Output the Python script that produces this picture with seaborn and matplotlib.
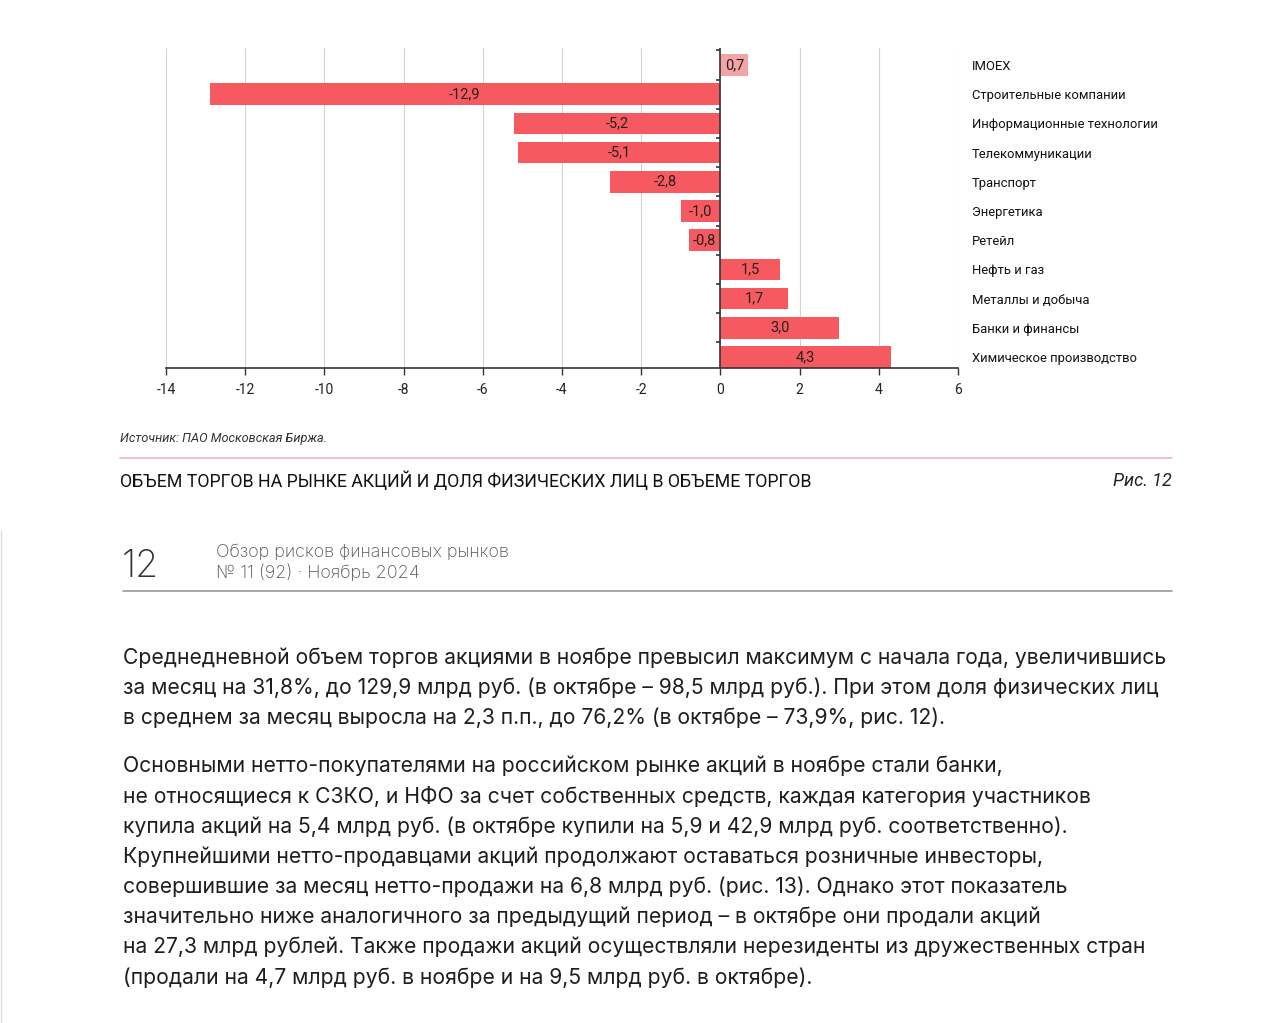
import matplotlib
matplotlib.use("Agg")
import matplotlib.pyplot as plt
import seaborn as sns
import pandas as pd
from matplotlib.lines import Line2D

# ---- data ----
categories = ["IMOEX", "Строительные компании", "Информационные технологии",
              "Телекоммуникации", "Транспорт", "Энергетика", "Ретейл",
              "Нефть и газ", "Металлы и добыча", "Банки и финансы",
              "Химическое производство"]
values = [0.7, -12.9, -5.2, -5.1, -2.8, -1.0, -0.8, 1.5, 1.7, 3.0, 4.3]
x_ticks = [-14, -12, -10, -8, -6, -4, -2, 0, 2, 4, 6]

source_text = "Источник: ПАО Московская Биржа."
next_title = "ОБЪЕМ ТОРГОВ НА РЫНКЕ АКЦИЙ И ДОЛЯ ФИЗИЧЕСКИХ ЛИЦ В ОБЪЕМЕ ТОРГОВ"
fig_label = "Рис. 12"
page_num = "12"
header_lines = ["Обзор рисков финансовых рынков", "№ 11 (92) · Ноябрь 2024"]
para1 = [
    "Среднедневной объем торгов акциями в ноябре превысил максимум с начала года, увеличившись",
    "за месяц на 31,8%, до 129,9 млрд руб. (в октябре – 98,5 млрд руб.). При этом доля физических лиц",
    "в среднем за месяц выросла на 2,3 п.п., до 76,2% (в октябре – 73,9%, рис. 12).",
]
para2 = [
    "Основными нетто-покупателями на российском рынке акций в ноябре стали банки,",
    "не относящиеся к СЗКО, и НФО за счет собственных средств, каждая категория участников",
    "купила акций на 5,4 млрд руб. (в октябре купили на 5,9 и 42,9 млрд руб. соответственно).",
    "Крупнейшими нетто-продавцами акций продолжают оставаться розничные инвесторы,",
    "совершившие за месяц нетто-продажи на 6,8 млрд руб. (рис. 13). Однако этот показатель",
    "значительно ниже аналогичного за предыдущий период – в октябре они продали акций",
    "на 27,3 млрд рублей. Также продажи акций осуществляли нерезиденты из дружественных стран",
    "(продали на 4,7 млрд руб. в ноябре и на 9,5 млрд руб. в октябре).",
]

W, H = 1280, 1023
sns.set_theme(style="white")
narrow = ["Roboto", "DejaVu Sans"]
body = ["Inter", "DejaVu Sans"]
plt.rcParams["font.family"] = body

fig = plt.figure(figsize=(W / 100, H / 100), dpi=100)
fig.patch.set_facecolor("white")

def fx(px):
    return px / W

def fy(py):
    return 1 - py / H

ax = fig.add_axes([fx(166), fy(368), fx(958) - fx(166), fy(48) - fy(368)])

df = pd.DataFrame({"cat": categories, "val": values})
pal = {c: ("#f4a3a6" if c == "IMOEX" else "#f65a60") for c in categories}
sns.barplot(data=df, x="val", y="cat", hue="cat", palette=pal, legend=False,
            orient="h", width=0.74, ax=ax, linewidth=0, saturation=1)

for c in ax.containers:
    ax.bar_label(c, labels=[f"{b.get_width():.1f}".replace(".", ",") for b in c],
                 label_type="center", fontsize=10.5, color="#222222", family=narrow)

ax.set_xlim(-14, 6)
ax.set_ylim(len(categories) - 1 + 0.38, -0.58)
ax.set_xticks(x_ticks)
ax.set_xticklabels([str(t) for t in x_ticks], family=narrow,
                   fontsize=10, color="#222222")
ax.grid(axis="x", color="#d2d2d2", linewidth=0.8)
ax.set_axisbelow(True)
ax.axvline(0, color="#333333", linewidth=1.2, zorder=3)
for k in range(len(categories)):
    ax.hlines(k - 0.5, -0.12, 0, color="#333333", linewidth=1.2, zorder=3)

for s in ["top", "right", "left"]:
    ax.spines[s].set_visible(False)
ax.spines["bottom"].set_color("#333333")
ax.spines["bottom"].set_linewidth(1.2)
ax.tick_params(axis="x", bottom=True, length=5, width=1, color="#333333", pad=6)
ax.yaxis.tick_right()
ax.tick_params(axis="y", right=False, left=False, length=0, pad=10)
for lbl in ax.get_yticklabels():
    lbl.set_family(narrow)
    lbl.set_fontsize(9.4)
    lbl.set_color("#111111")
    lbl.set_ha("left")
ax.set_xlabel("")
ax.set_ylabel("")

# ---- page text ----
fig.text(fx(120), fy(438), source_text, family=narrow, style="italic",
         fontsize=9.2, color="#333333", va="center")
fig.add_artist(Line2D([fx(120), fx(1172)], [fy(458), fy(458)], color="#e9b9bc",
                      linewidth=1.2))
fig.text(fx(120), fy(481), next_title, family=narrow, fontsize=12.8,
         color="#111111", va="center")
fig.text(fx(1172), fy(481), fig_label, family=narrow, style="italic", fontsize=13,
         color="#222222", va="center", ha="right")

fig.text(fx(122), fy(567), page_num, fontsize=27, color="#333333", va="center",
         fontweight="light")
fig.text(fx(216), fy(552), header_lines[0], fontsize=12.9, color="#555555",
         va="center", fontweight="light")
fig.text(fx(216), fy(573), header_lines[1], fontsize=12.9, color="#555555",
         va="center", fontweight="light")
fig.add_artist(Line2D([fx(123), fx(1172)], [fy(591), fy(591)], color="#9a9a9a",
                      linewidth=1.2))
fig.add_artist(Line2D([fx(1), fx(1)], [fy(530), fy(1023)], color="#dddddd",
                      linewidth=1.0))

for i, line in enumerate(para1):
    fig.text(fx(123), fy(658 + 30 * i), line, fontsize=15.2, color="#1e1e1e",
             va="center")
for i, line in enumerate(para2):
    fig.text(fx(123), fy(766 + 30.2 * i), line, fontsize=15.2, color="#1e1e1e",
             va="center")

fig.savefig("out.png", dpi=100, facecolor="white")
